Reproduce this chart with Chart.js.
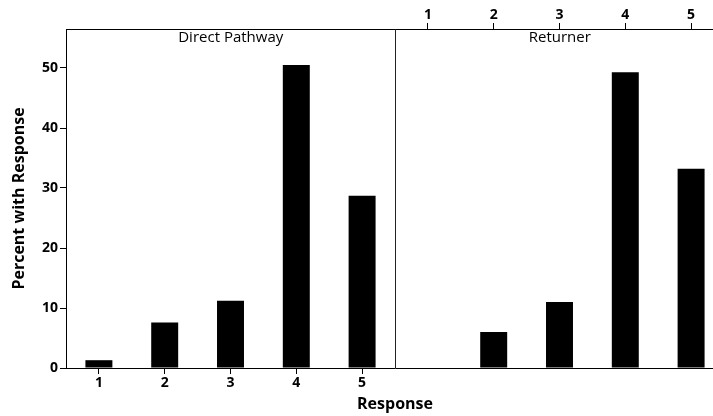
<!DOCTYPE html>
<html>
<head>
<meta charset="utf-8">
<script src="https://cdn.jsdelivr.net/npm/chart.js@4/dist/chart.umd.min.js"></script>
<style>
  html, body { margin: 0; padding: 0; background: #fff; overflow: hidden; }
  #wrap { width: 713px; height: 416px; overflow: hidden; position: relative; }
  canvas { display: block; }
</style>
</head>
<body>
<div id="wrap"><canvas id="c" width="724" height="416"></canvas></div>
<script>
// ---- data ----
const categories = ['1', '2', '3', '4', '5'];
const panels = ['Direct Pathway', 'Returner'];
const directPathway = [1.3, 7.6, 11.2, 50.5, 28.7];
const returner = [0, 6.0, 11.0, 49.3, 33.2];
const yTicks = [0, 10, 20, 30, 40, 50];
const yMax = 56.5;
const xTitle = 'Response';
const yTitle = 'Percent with Response';

const FONT = "'Open Sans', 'Noto Sans', sans-serif";
const labels = categories.concat(categories);
const values = directPathway.concat(returner);
const n = categories.length;

const panelPlugin = {
  id: 'panels',
  afterDatasetsDraw(chart) {
    const { ctx, chartArea } = chart;
    const xs = chart.scales.x;
    const divX = Math.round((xs.getPixelForValue(n - 1) + xs.getPixelForValue(n)) / 2) + 0.5;
    ctx.save();
    ctx.strokeStyle = '#222';
    ctx.lineWidth = 1;
    ctx.beginPath();
    ctx.moveTo(divX, chartArea.top);
    ctx.lineTo(divX, chartArea.bottom);
    ctx.stroke();
    ctx.fillStyle = '#000';
    ctx.font = '15px ' + FONT;
    ctx.textAlign = 'center';
    ctx.textBaseline = 'middle';
    ctx.fillText(panels[0], (chartArea.left + divX) / 2, chartArea.top + 9);
    ctx.fillText(panels[1], (divX + chartArea.right) / 2, chartArea.top + 9);
    ctx.restore();
  }
};

new Chart(document.getElementById('c'), {
  type: 'bar',
  data: {
    labels: labels,
    datasets: [{
      data: values,
      backgroundColor: '#000',
      borderWidth: 0,
      categoryPercentage: 1,
      barPercentage: 0.41,
      xAxisID: 'x',
      yAxisID: 'y'
    }]
  },
  options: {
    responsive: false,
    animation: false,
    devicePixelRatio: 1,
    layout: { padding: 0 },
    plugins: { legend: { display: false }, tooltip: { enabled: false } },
    scales: {
      x: {
        type: 'category',
        position: 'bottom',
        offset: true,
        afterFit(s) { s.height = 48; },
        grid: {
          offset: false,
          drawOnChartArea: false,
          tickLength: 6,
          color: (c) => (c.index < n ? '#000' : 'rgba(0,0,0,0)')
        },
        border: { display: true, color: '#000', width: 1 },
        ticks: {
          autoSkip: false,
          maxRotation: 0,
          padding: 1,
          color: '#000',
          font: { family: FONT, size: 14, weight: 'bold' },
          callback: (v, i) => (i < n ? categories[i] : '')
        },
        title: {
          display: true,
          text: xTitle,
          color: '#000',
          font: { family: FONT, size: 16, weight: 'bold' },
          padding: { top: 0, bottom: 2 }
        }
      },
      x2: {
        type: 'category',
        position: 'top',
        offset: true,
        afterFit(s) { s.height = 29; },
        grid: {
          offset: false,
          drawOnChartArea: false,
          tickLength: 6,
          color: (c) => (c.index >= n ? '#000' : 'rgba(0,0,0,0)')
        },
        border: { display: true, color: '#000', width: 1 },
        ticks: {
          autoSkip: false,
          maxRotation: 0,
          padding: 0,
          color: '#000',
          font: { family: FONT, size: 14, weight: 'bold' },
          callback: (v, i) => (i >= n ? categories[i - n] : '')
        }
      },
      y: {
        min: 0,
        max: yMax,
        afterFit(s) { s.width = 66; },
        afterBuildTicks(s) { s.ticks = yTicks.map(v => ({ value: v })); },
        grid: { drawOnChartArea: false, tickLength: 6, color: '#000' },
        border: { display: true, color: '#000', width: 1 },
        ticks: {
          padding: 2,
          color: '#000',
          font: { family: FONT, size: 14, weight: 'bold' }
        },
        title: {
          display: true,
          text: yTitle,
          color: '#000',
          font: { family: FONT, size: 16, weight: 'bold' },
          padding: { top: 10, bottom: 0 }
        }
      }
    }
  },
  plugins: [panelPlugin]
});
</script>
</body>
</html>
